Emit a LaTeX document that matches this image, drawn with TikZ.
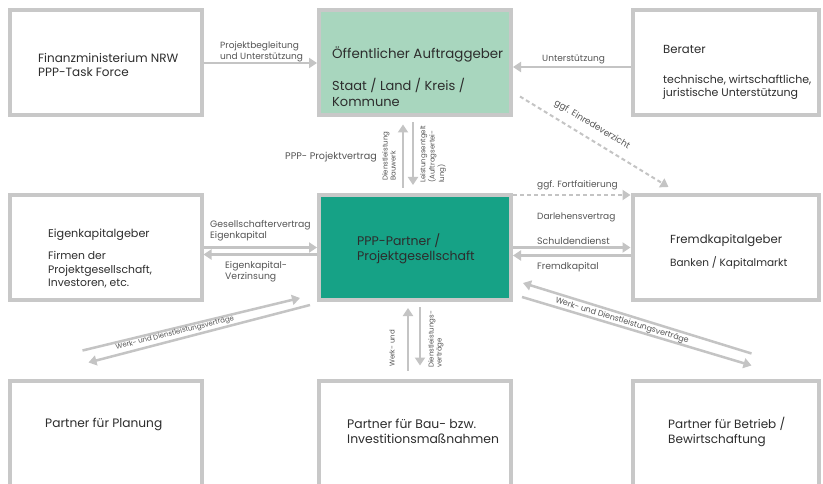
\documentclass[tikz,border=0pt]{standalone}
\usepackage{fontspec}
\setmainfont{Poppins}
\usetikzlibrary{arrows.meta}
\definecolor{rahmen}{RGB}{200,200,200}
\definecolor{linie}{RGB}{196,196,196}
\definecolor{hellgruen}{RGB}{168,214,190}
\definecolor{petrol}{RGB}{22,162,134}
\definecolor{schrift}{RGB}{45,45,45}
\definecolor{beschr}{RGB}{85,85,85}
\newcommand{\gr}[1]{\fontsize{#1}{1.22\dimexpr#1pt\relax}\selectfont}

\begin{document}
\begin{tikzpicture}[x=1pt, y=-1pt,
        kasten/.style={draw=rahmen, line width=4pt, inner sep=0pt, minimum height=105pt},
        links/.style={kasten, minimum width=192pt},
        mitte/.style={kasten, minimum width=192pt},
        rechts/.style={kasten, minimum width=186pt},
        txt/.style={anchor=west, align=left, inner sep=0pt, text=schrift, font=\gr{12.5}},
        klein/.style={anchor=west, align=left, inner sep=0pt, text=beschr, font=\gr{9}},
        winzig/.style={inner sep=0pt, align=left, text=beschr, font=\fontsize{7}{8}\selectfont},
        pfeil/.style={draw=linie, line width=2.5pt, -{Triangle[length=8pt,width=10pt]}},
        gestrichelt/.style={pfeil, line width=2pt, dash pattern=on 4pt off 3pt}]
        \useasboundingbox[fill=white] (0,0) rectangle (823,484);
        % obere Reihe
        \node[links] (fin) at (105.5,63) {};
        \node[mitte, fill=hellgruen] (oeff) at (415,63) {};
        \node[rechts] (berater) at (725.5,63) {};
        % mittlere Reihe
        \node[links] (eigen) at (105.5,247.5) {};
        \node[mitte, fill=petrol] (ppp) at (415,247.5) {};
        \node[rechts] (fremd) at (725.5,247.5) {};
        % untere Reihe
        \node[links] (planung) at (105.5,433) {};
        \node[mitte] (bau) at (415,433) {};
        \node[rechts] (betrieb) at (725.5,433) {};

        \node[txt, font=\gr{12}] (fintxt) at (38,65) {Finanzministerium NRW\\PPP-Task Force};
        \node[txt, font=\gr{13}] (oefftxt) at (332,77) {{\gr{13.4}Öffentlicher Auftraggeber}\\[15pt]Staat / Land / Kreis /\\Kommune};
        \node[txt, font=\gr{11}] (beratertxt) at (663,72.5) {{\gr{11.7}Berater}\\[16pt]technische, wirtschaftliche,\\juristische Unterstützung};
        \node[txt, font=\gr{10.8}] (eigentxt) at (48,258.5) {{\gr{11.2}Eigenkapitalgeber}\\[9pt]Firmen der\\Projektgesellschaft,\\Investoren, etc.};
        \node[txt] (ppptxt) at (357,248.5) {PPP-Partner /\\Projektgesellschaft};
        \node[txt, font=\gr{10.5}] (fremdtxt) at (670,251.5) {{\gr{11.7}Fremdkapitalgeber}\\[9pt]Banken / Kapitalmarkt};
        \node[txt, font=\gr{12.2}] (planungtxt) at (45,424) {Partner für Planung};
        \node[txt, font=\gr{12.4}] (bautxt) at (347,431.5) {Partner für Bau- bzw.\\Investitionsmaßnahmen};
        \node[txt, font=\gr{12}] (betriebtxt) at (668,432) {Partner für Betrieb /\\Bewirtschaftung};

        \draw[pfeil] (fin.east) -- (oeff.west);
        \draw[pfeil] ([yshift=-4pt]berater.west) -- ([yshift=-4pt]oeff.east);
        \draw[gestrichelt] ([shift={(7,-21)}]oeff.south east) -- ([shift={(38,-6)}]fremd.north west);
        \draw[pfeil, shorten <=5pt, shorten >=7pt] ([xshift=-12pt]ppp.north) -- ([xshift=-12pt]oeff.south);
        \draw[pfeil, shorten <=5pt, shorten >=8pt] ([xshift=-2pt]oeff.south) -- ([xshift=-2pt]ppp.north);
        \draw[pfeil] (eigen.east) -- (ppp.west);
        \draw[pfeil] ([yshift=-7pt]ppp.west) -- ([yshift=-7pt]eigen.east);
        \draw[gestrichelt] ([yshift=-2pt]ppp.north east) -- ([yshift=-2pt]fremd.north west);
        \draw[pfeil] (ppp.east) -- (fremd.west);
        \draw[pfeil] ([yshift=-8pt]fremd.west) -- ([yshift=-8pt]ppp.west -| ppp.east);
        \draw[pfeil, shorten <=8pt, shorten >=6pt] ([xshift=-7pt]bau.north) -- ([xshift=-7pt]ppp.south);
        \draw[pfeil, shorten <=5pt, shorten >=13pt] ([xshift=5pt]ppp.south) -- ([xshift=5pt]bau.north);
        \draw[pfeil] ([shift={(-23,-28)}]planung.north) -- ([shift={(-17,-4)}]ppp.south west);
        \draw[pfeil] ([shift={(-7,3)}]ppp.south west) -- ([shift={(-17,-16)}]planung.north);
        \draw[pfeil] ([shift={(26,-25)}]betrieb.north) -- ([shift={(10,-19)}]ppp.south east);
        \draw[pfeil] ([shift={(9,-5)}]ppp.south east) -- ([shift={(26,-13)}]betrieb.north);

        % Beschriftungen
        \node[klein] (begl) at (220,51.5) {Projektbegleitung\\und Unterstützung};
        \node[klein] (unterst) at (542,59) {Unterstützung};
        \node[klein, anchor=east, font=\gr{9.6}] (vertrag) at (377,157) {PPP- Projektvertrag};
        \node[winzig, rotate=90, anchor=west] (dienst) at (389,181) {Dienstleistung\\Bauwerk};
        \node[winzig, rotate=90, anchor=west] (entgelt) at (433,183) {Leistungsentgelt\\(Auftragsertei-\\lung)};
        \node[winzig, rotate=-31, font=\gr{8.8}] (einrede) at (592,125) {ggf. Einredeverzicht};
        \node[klein, font=\gr{9.3}] (gesell) at (210,231) {Gesellschaftervertrag\\Eigenkapital};
        \node[klein, font=\gr{9.3}] (verzins) at (225,271.5) {Eigenkapital-\\Verzinsung};
        \node[klein] (forfait) at (537,185) {ggf. Fortfaitierung};
        \node[klein] (darlehen) at (537,217) {Darlehensvertrag};
        \node[klein, font=\gr{9.4}] (schuld) at (537,241) {Schuldendienst};
        \node[klein, font=\gr{9.3}] (fremdk) at (537,267) {Fremdkapital};
        \node[winzig, rotate=90, anchor=west] (werk) at (392,367) {Werk- und};
        \node[winzig, rotate=90, anchor=west] (dienstv) at (436,368) {Dienstleistungs-\\verträge};
        \node[winzig, rotate=14] (werklinks) at (175,333) {Werk- und Dienstleistungsverträge};
        \node[winzig, rotate=-17, font=\gr{8}] (werkrechts) at (622,321) {Werk- und Dienstleistungsverträge};
\end{tikzpicture}
\end{document}
